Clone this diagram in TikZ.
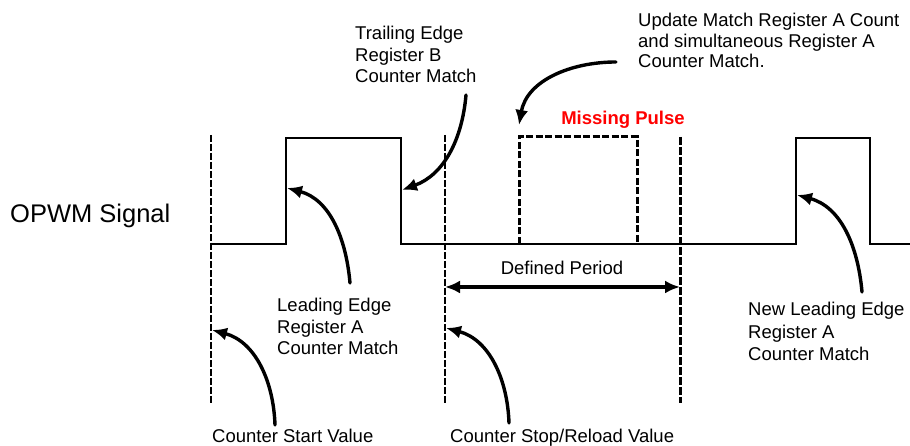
\documentclass[tikz,border=0pt]{standalone}
\usepackage{fontspec}
\setmainfont{Liberation Sans}
\usetikzlibrary{arrows.meta}

\begin{document}
\begin{tikzpicture}[x=1pt,y=1pt,
  sig/.style={line width=2pt, line join=miter},
  ghost/.style={line width=3pt, dash pattern=on 7pt off 2.5pt},
  guide/.style={line width=2.2pt, dash pattern=on 7pt off 2pt},
  guidebold/.style={line width=3pt, dash pattern=on 8pt off 2pt},
  curvy/.style={line width=3.4pt, line cap=round, -{Latex[length=15pt,width=13pt]}},
  span/.style={line width=3.2pt, {Latex[length=15pt,width=13pt]}-{Latex[length=15pt,width=13pt]}},
  lbl/.style={inner sep=0pt, anchor=base west, align=left, font=\fontsize{18.5}{21.5}\selectfont},
]
\useasboundingbox (0,0) rectangle (910,446);

% signal levels
\coordinate (s0) at (212,202);
\coordinate (r1) at (286,202);
\coordinate (r1h) at (286,308);
\coordinate (f1h) at (401,308);
\coordinate (f1) at (401,202);
\coordinate (r2) at (796,202);
\coordinate (r2h) at (796,308);
\coordinate (f2h) at (870,308);
\coordinate (f2) at (870,202);
\coordinate (s1) at (910,202);
\draw[sig] (s0) -- (r1) -- (r1h) -- (f1h) -- (f1) -- (r2) -- (r2h) -- (f2h) -- (f2) -- (s1);

% missing pulse outline
\coordinate (m1) at (519,202);
\coordinate (m2) at (519,309);
\coordinate (m3) at (637,309);
\coordinate (m4) at (637,202);
\draw[ghost] (m1) -- (m2) -- (m3) -- (m4);

% counter reference lines
\coordinate (g1t) at (211,311);
\coordinate (g1b) at (211,42);
\coordinate (g2t) at (445,311);
\coordinate (g2b) at (445,42);
\coordinate (g3t) at (680,309);
\coordinate (g3b) at (680,43);
\draw[guide] (g1t) -- (g1b);
\draw[guide] (g2t) -- (g2b);
\draw[guidebold] (g3t) -- (g3b);

% period span
\coordinate (pa) at (445,159);
\coordinate (pb) at (680,159);
\draw[span] (pa) -- (pb);
\node[inner sep=0pt, anchor=base, font=\fontsize{18.5}{21.5}\selectfont] (period) at (562,171) {Defined Period};

% labels (multi-line labels are placed by the baseline of their last line)
\node[inner sep=0pt, anchor=base west, font=\fontsize{25.5}{30}\selectfont] (opwm) at (10,223) {OPWM Signal};
\node[inner sep=0pt, anchor=base, text=red, font=\fontsize{18.5}{21.5}\selectfont\bfseries] (miss) at (623,321) {Missing Pulse};
\node[lbl] (trail) at (355,363) {Trailing Edge\\Register B\\Counter Match};
\node[lbl, font=\fontsize{18.5}{20.5}\selectfont] (upd) at (638,378) {Update Match Register A Count\\and simultaneous Register A\\Counter Match.};
\node[lbl] (lead) at (277,91) {Leading Edge\\Register A\\Counter Match};
\node[lbl, font=\fontsize{18.5}{22.5}\selectfont] (newlead) at (748,85) {New Leading Edge\\Register A\\Counter Match};
\node[lbl] (cstart) at (212,3) {Counter Start Value};
\node[lbl] (cstop) at (450,3) {Counter Stop/Reload Value};

% pointer arrows
\coordinate (a1s) at (350,163);
\coordinate (a1e) at (287,258);
\coordinate (a2s) at (466,351);
\coordinate (a2e) at (402,256);
\coordinate (a3s) at (616,384);
\coordinate (a3e) at (519,321);
\coordinate (a4s) at (275,21);
\coordinate (a4e) at (212,116);
\coordinate (a5s) at (509,23);
\coordinate (a5e) at (446,118);
\coordinate (a6s) at (862,154);
\coordinate (a6e) at (797,251);
\draw[curvy] (a1s) to[out=95, in=-15] (a1e);
\draw[curvy] (a2s) to[out=-95, in=20] (a2e);
\draw[curvy] (a3s) to[out=180, in=80] (a3e);
\draw[curvy] (a4s) to[out=92, in=-15] (a4e);
\draw[curvy] (a5s) to[out=92, in=-15] (a5e);
\draw[curvy] (a6s) to[out=95, in=-15] (a6e);
\end{tikzpicture}
\end{document}
